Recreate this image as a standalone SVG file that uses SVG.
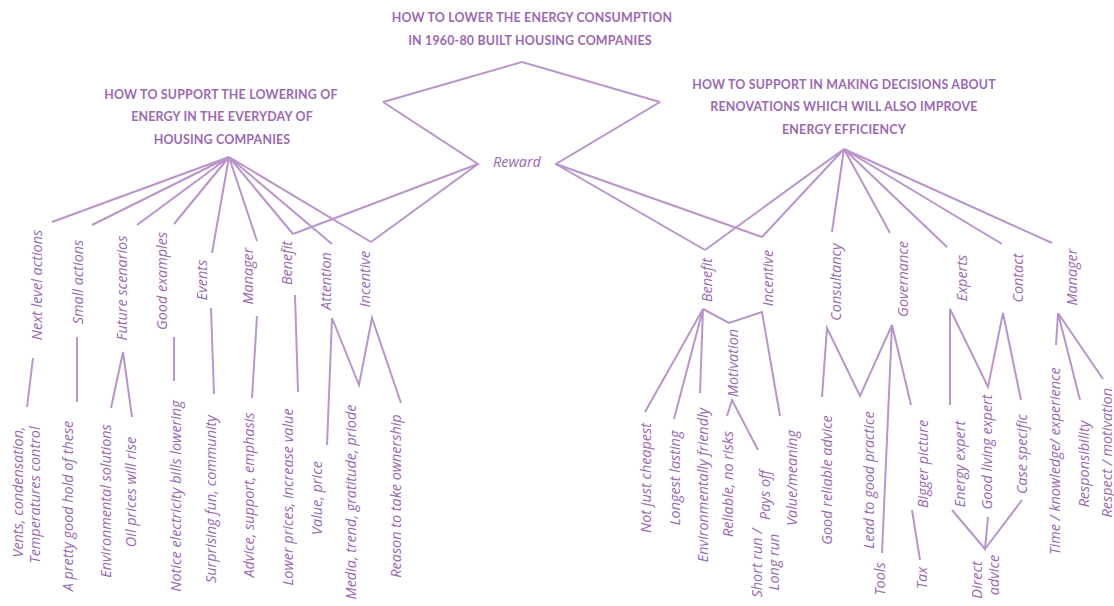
<svg xmlns="http://www.w3.org/2000/svg" width="1114" height="606" viewBox="0 0 1114 606">
<style>
text{font-family:Lato,"Open Sans","Liberation Sans",sans-serif;fill:#9a69b2}
.h{font-weight:bold;font-size:12.4px;text-anchor:middle;letter-spacing:0.2px}
.l,.e{font-family:"Open Sans",Lato,"Liberation Sans",sans-serif;font-style:italic;font-weight:500;font-size:14.4px;text-anchor:middle}
.e{text-anchor:end}
.c path{fill:none;stroke:#b995cc;stroke-width:2;stroke-linejoin:miter;stroke-linecap:butt}
</style>
<rect width="1114" height="606" fill="#fff"/>
<g class="c" id="connectors">
<path d="M383,102 L522,62 L660,102"/>
<path d="M383,102 L478,164 L293,234"/>
<path d="M478,164 L371,242"/>
<path d="M660,102 L556,164 L705,250"/>
<path d="M556,164 L762,237"/>
<path d="M229,157 L52,222 M229,157 L92,225 M229,157 L137,225 M229,157 L174,224 M229,157 L212,253 M229,157 L257,241 M229,157 L293,234 M229,157 L332,244 M229,157 L371,242"/>
<path d="M33,358 L27,407"/>
<path d="M77,337 L77,402"/>
<path d="M111,408 L123,352 L132,417"/>
<path d="M174,337 L174,381"/>
<path d="M211,308 L214,394"/>
<path d="M257,316 L252,398"/>
<path d="M295,295 L298,392"/>
<path d="M327,445 L332,318 L359,385 L372,318 L401,403"/>
<path d="M844,149 L705,250 M844,149 L762,237 M844,149 L832,232 M844,149 L890,233 M844,149 L947,247 M844,149 L1002,244 M844,149 L1052,243"/>
<path d="M645,412 L703,309 L674,419 M703,309 L700,393 M703,309 L729,323 L762,312 L780,416"/>
<path d="M727,416 L732,400 L758,450"/>
<path d="M822,397 L827,328 L860,396 L892,325 L882,553 M892,325 L911,405"/>
<path d="M912,510 L920,560"/>
<path d="M950,405 L950,309 L988,387 L1003,313 L1021,400"/>
<path d="M952,510 L985,549 L988,517 M985,549 L1022,500"/>
<path d="M1056,345 L1058,313 L1080,400 M1058,313 L1103,379"/>
</g>
<g id="title"><text class="h" x="532" y="22">HOW TO LOWER THE ENERGY CONSUMPTION</text><text class="h" x="530" y="45">IN 1960-80 BUILT HOUSING COMPANIES</text></g>
<g id="left-heading"><text class="h" x="221" y="99">HOW TO SUPPORT THE LOWERING OF</text><text class="h" x="222" y="121">ENERGY IN THE EVERYDAY OF</text><text class="h" x="222" y="144">HOUSING COMPANIES</text></g>
<g id="right-heading"><text class="h" x="844" y="89">HOW TO SUPPORT IN MAKING DECISIONS ABOUT</text><text class="h" x="844" y="111">RENOVATIONS WHICH WILL ALSO IMPROVE</text><text class="h" x="844" y="134">ENERGY EFFICIENCY</text></g>
<g id="reward"><text class="l" x="517" y="167">Reward</text></g>
<g id="left-nodes">
<g id="n-next"><text class="l" transform="translate(42,285) rotate(-90)">Next level actions</text></g>
<g id="n-small"><text class="l" transform="translate(83,282) rotate(-90)">Small actions</text></g>
<g id="n-future"><text class="l" transform="translate(127,288) rotate(-90)">Future scenarios</text></g>
<g id="n-good"><text class="l" transform="translate(167,281) rotate(-90)">Good examples</text></g>
<g id="n-events"><text class="l" transform="translate(207,280) rotate(-90)">Events</text></g>
<g id="n-manager-l"><text class="l" transform="translate(253,276) rotate(-90)">Manager</text></g>
<g id="n-benefit-l"><text class="l" transform="translate(292,263) rotate(-90)">Benefit</text></g>
<g id="n-attention"><text class="l" transform="translate(331,281) rotate(-90)">Attention</text></g>
<g id="n-incentive-l"><text class="l" transform="translate(370,279) rotate(-90)">Incentive</text></g>
<g id="n-vents"><text class="l" transform="translate(23,492) rotate(-90)">Vents, condensation,</text><text class="l" transform="translate(40,495) rotate(-90)">Temperatures control</text></g>
<g id="n-pretty"><text class="l" transform="translate(73,506) rotate(-90)">A pretty good hold of these</text></g>
<g id="n-env"><text class="l" transform="translate(111,501) rotate(-90)">Environmental solutions</text></g>
<g id="n-oil"><text class="l" transform="translate(136,492) rotate(-90)">Oil prices will rise</text></g>
<g id="n-notice"><text class="l" transform="translate(181,496) rotate(-90)">Notice electricity bills lowering</text></g>
<g id="n-surprising"><text class="l" transform="translate(216,499) rotate(-90)">Surprising fun, community</text></g>
<g id="n-advice"><text class="l" transform="translate(254,495) rotate(-90)">Advice, support, emphasis</text></g>
<g id="n-lower"><text class="l" transform="translate(293,497) rotate(-90)">Lower prices, increase value</text></g>
<g id="n-value"><text class="l" transform="translate(322,498) rotate(-90)">Value, price</text></g>
<g id="n-media"><text class="l" transform="translate(356,502) rotate(-90)">Media, trend, gratitude, priode</text></g>
<g id="n-reason"><text class="l" transform="translate(401,496) rotate(-90)">Reason to take ownership</text></g>
</g>
<g id="right-nodes">
<g id="n-benefit-r"><text class="l" transform="translate(712,280) rotate(-90)">Benefit</text></g>
<g id="n-incentive-r"><text class="l" transform="translate(773,278) rotate(-90)">Incentive</text></g>
<g id="n-consultancy"><text class="l" transform="translate(841,282) rotate(-90)">Consultancy</text></g>
<g id="n-governance"><text class="l" transform="translate(908,279) rotate(-90)">Governance</text></g>
<g id="n-experts"><text class="l" transform="translate(967,278) rotate(-90)">Experts</text></g>
<g id="n-contact"><text class="l" transform="translate(1023,278) rotate(-90)">Contact</text></g>
<g id="n-manager-r"><text class="l" transform="translate(1077,277) rotate(-90)">Manager</text></g>
<g id="n-notjust"><text class="l" transform="translate(651,478) rotate(-90)">Not just cheapest</text></g>
<g id="n-longest"><text class="l" transform="translate(680,478) rotate(-90)">Longest lasting</text></g>
<g id="n-envfriendly"><text class="l" transform="translate(708,485) rotate(-90)">Environmentally friendly</text></g>
<g id="n-motivation"><text class="l" transform="translate(738,363) rotate(-90)">Motivation</text></g>
<g id="n-reliable"><text class="l" transform="translate(733,484) rotate(-90)">Reliable, no risks</text></g>
<g id="n-paysoff"><text class="l" transform="translate(770,495) rotate(-90)">Pays off</text></g>
<g id="n-shortrun"><text class="l" transform="translate(762,563) rotate(-90)">Short run /</text><text class="l" transform="translate(779,562) rotate(-90)">Long run</text></g>
<g id="n-valuemeaning"><text class="l" transform="translate(797,478) rotate(-90)">Value/meaning</text></g>
<g id="n-goodreliable"><text class="l" transform="translate(832,480) rotate(-90)">Good reliable advice</text></g>
<g id="n-lead"><text class="l" transform="translate(874,480) rotate(-90)">Lead to good practice</text></g>
<g id="n-tools"><text class="l" transform="translate(885,579) rotate(-90)">Tools</text></g>
<g id="n-bigger"><text class="l" transform="translate(928,464) rotate(-90)">Bigger picture</text></g>
<g id="n-tax"><text class="l" transform="translate(927,578) rotate(-90)">Tax</text></g>
<g id="n-energyexpert"><text class="l" transform="translate(965,464) rotate(-90)">Energy expert</text></g>
<g id="n-goodliving"><text class="l" transform="translate(992,452) rotate(-90)">Good living expert</text></g>
<g id="n-case"><text class="l" transform="translate(1027,454) rotate(-90)">Case specific</text></g>
<g id="n-direct"><text class="l" transform="translate(982,580) rotate(-90)">Direct</text><text class="l" transform="translate(999,575) rotate(-90)">advice</text></g>
<g id="n-time"><text class="l" transform="translate(1060,461) rotate(-90)">Time / knowledge/ experience</text></g>
<g id="n-responsibility"><text class="l" transform="translate(1089,464) rotate(-90)">Responsibility</text></g>
<g id="n-respect"><text class="e" transform="translate(1112,388) rotate(-90)">Respect / motivation</text></g>
</g>
</svg>
